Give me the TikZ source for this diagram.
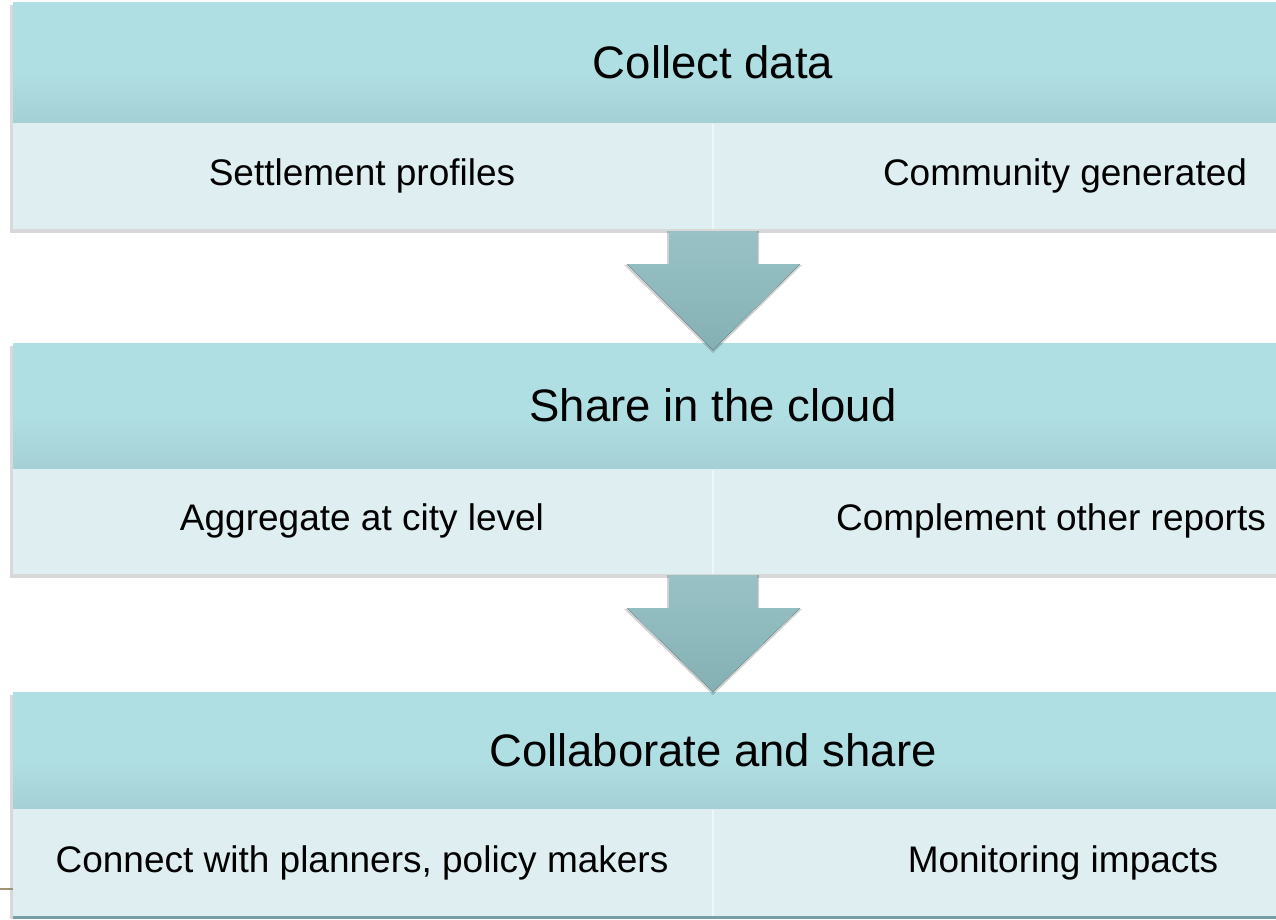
\documentclass[tikz,border=0pt]{standalone}
\usepackage{fontspec}
\setmainfont{Liberation Sans}
\definecolor{headtop}{RGB}{176,223,227}
\definecolor{headbot}{RGB}{164,208,213}
\definecolor{subfill}{RGB}{223,238,240}
\definecolor{subline}{RGB}{238,246,247}
\definecolor{arrtop}{RGB}{152,194,198}
\definecolor{arrbot}{RGB}{132,176,180}
\definecolor{shadowgray}{RGB}{190,190,190}
\definecolor{tealline}{RGB}{118,160,165}
\definecolor{tanline}{RGB}{160,148,118}
\begin{document}
\begin{tikzpicture}[x=1pt,y=-1pt,
  headbox/.style={draw=none,fill=headtop},
  headshade/.style={draw=none,top color=headtop,bottom color=headbot},
  subbox/.style={draw=none,fill=subfill},
  headtext/.style={font=\fontsize{45.5}{50}\selectfont,text=black,inner sep=0pt},
  subtext/.style={font=\fontsize{37}{42}\selectfont,text=black,inner sep=0pt},
  blockarrow/.style={top color=arrtop,bottom color=arrbot,draw=none},
  arrshadow/.style={fill=black,opacity=0.18,draw=none},
  boxshadow/.style={fill=shadowgray,opacity=0.6,draw=none},
  divider/.style={draw=subline,line width=1.5pt}]
\useasboundingbox (0,0) rectangle (1276,919);
\fill[white] (0,0) rectangle (1276,919);
\clip (0,0) rectangle (1276,919);

% ---------- box 1 ----------
\fill[boxshadow] (10,5) rectangle (1414,233);
\fill[headbox] (13,2) rectangle (1417,123);
\fill[headshade] (13,70) rectangle (1417,123);
\fill[subbox] (13,123) rectangle (1417,229);
\draw[divider] (713,124) -- (713,229);
\node[headtext] (h1) at (713,62) {Collect data};
\node[subtext] (s1a) at (362,176) {Settlement profiles};
\node[subtext] (s1b) at (1065,176) {Community generated};

% ---------- box 2 ----------
\fill[boxshadow] (10,346) rectangle (1414,578);
\fill[headbox] (13,343) rectangle (1417,469);
\fill[headshade] (13,413) rectangle (1417,469);
\fill[subbox] (13,469) rectangle (1417,574);
\draw[divider] (713,470) -- (713,574);
\node[headtext] (h2) at (713,405) {Share in the cloud};
\node[subtext] (s2a) at (362,521) {Aggregate at city level};
\node[subtext] (s2b) at (1051,521) {Complement other reports};

% ---------- box 3 ----------
\fill[boxshadow] (10,695) rectangle (1414,919);
\fill[headbox] (13,692) rectangle (1417,809);
\fill[headshade] (13,757) rectangle (1417,809);
\fill[subbox] (13,809) rectangle (1417,916);
\draw[divider] (713,810) -- (713,916);
\draw[tealline,line width=2.5pt] (13,917.5) -- (1417,917.5);
\node[headtext] (h3) at (713,750) {Collaborate and share};
\node[subtext] (s3a) at (362,863) {Connect with planners, policy makers};
\node[subtext] (s3b) at (1063,863) {Monitoring impacts};

% ---------- block arrows ----------
\coordinate (a1) at (713,231);
\coordinate (t1) at (713,350);
\coordinate (a2) at (713,575);
\coordinate (t2) at (713,692);
\foreach \s/\t in {a1/t1,a2/t2}{
  \fill[arrshadow] ([shift={(-46,0)}]\s) -- ([shift={(46,0)}]\s)
     -- ([shift={(46,34)}]\s) -- ([shift={(89,34)}]\s) -- ([shift={(0,3)}]\t)
     -- ([shift={(-89,34)}]\s) -- ([shift={(-46,34)}]\s) -- cycle;
  \fill[blockarrow] ([shift={(-44,0)}]\s) -- ([shift={(44,0)}]\s)
     -- ([shift={(44,33)}]\s) -- ([shift={(87,33)}]\s) -- (\t)
     -- ([shift={(-86,33)}]\s) -- ([shift={(-44,33)}]\s) -- cycle;
}

% ---------- slide decoration ----------
\coordinate (tanend) at (13,889);
\draw[tanline,line width=1.2pt] (0,889) -- (tanend);
\end{tikzpicture}
\end{document}
